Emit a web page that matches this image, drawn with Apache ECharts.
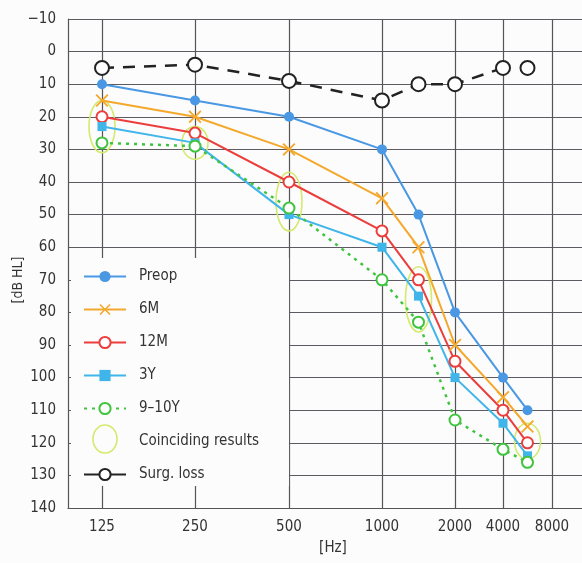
<!DOCTYPE html>
<html>
<head>
<meta charset="utf-8">
<script src="https://cdn.jsdelivr.net/npm/echarts@6/dist/echarts.min.js"></script>
<style>
  html, body { margin: 0; padding: 0; background: #fcfcfc; }
  #box { width: 582px; height: 563px; }
</style>
</head>
<body>
<div id="box"></div>
<script>
  // measured frequencies (Hz) and thresholds (dB HL)
  const freqs = [125, 250, 500, 1000, 1500, 2000, 4000, 6000];
  const preop = [10, 15, 20, 30, 50, 80, 100, 110];
  const m6 = [15, 20, 30, 45, 60, 90, 106, 115];
  const m12 = [20, 25, 40, 55, 70, 95, 110, 120];
  const y3 = [23, 28, 50, 60, 75, 100, 114, 124];
  const y910 = [28, 29, 48, 70, 83, 113, 122, 126];
  const surgLoss = [5, 4, 9, 15, 10, 10, 5, 5];

  // coinciding results: frequency, dB from, dB to
  const coincFreq = [125, 250, 500, 1500, 6000];
  const coincFrom = [15, 23, 37, 66, 114];
  const coincTo = [31, 33, 55, 86, 125];

  // x axis is drawn as in the paper, ticks not evenly spaced
  const tickFreqs = [125, 250, 500, 1000, 2000, 4000, 8000];
  const tickLabels = ['125', '250', '500', '1000', '2000', '4000', '8000'];
  const tickPos = [34, 127, 221, 314, 387, 435, 484];

  function fx(f) {
    for (let i = 0; i < tickFreqs.length - 1; i++) {
      if (f <= tickFreqs[i + 1]) {
        const t = (f - tickFreqs[i]) / (tickFreqs[i + 1] - tickFreqs[i]);
        return tickPos[i] + t * (tickPos[i + 1] - tickPos[i]);
      }
    }
    return tickPos[tickPos.length - 1];
  }
  const pts = (arr) => arr.map((v, i) => [fx(freqs[i]), v]);

  const font = "'Liberation Sans Narrow', 'DejaVu Sans Condensed', 'Noto Sans', sans-serif";
  const gridColor = '#555';
  const xMark = 'path://M0,1L1,0L5,4L9,0L10,1L6,5L10,9L9,10L5,6L1,10L0,9L4,5Z';

  const surg = pts(surgLoss);

  const chart = echarts.init(document.getElementById('box'));
  chart.setOption({
    backgroundColor: '#fcfcfc',
    animation: false,
    textStyle: { fontFamily: font },
    grid: { left: 68, right: 0, top: 19, bottom: 55 },
    xAxis: {
      type: 'value',
      min: 0,
      max: 514,
      axisLine: { show: true, onZero: false, lineStyle: { color: gridColor, width: 1.2 } },
      axisTick: {
        show: true,
        customValues: tickPos,
        inside: true,
        length: 489,
        lineStyle: { color: gridColor, width: 1.2 },
      },
      axisLabel: {
        customValues: tickPos,
        formatter: (v) => tickLabels[tickPos.indexOf(v)] || '',
        color: '#333',
        fontSize: 15,
        margin: 12,
        fontFamily: font,
      },
      splitLine: { show: false },
    },
    yAxis: {
      type: 'value',
      inverse: true,
      min: -10,
      max: 140,
      interval: 10,
      axisLine: { show: true, lineStyle: { color: gridColor, width: 1.2 } },
      axisTick: { show: false },
      axisLabel: {
        formatter: (v) => String(v).replace('-', '\u2212'),
        color: '#333',
        fontSize: 15,
        margin: 12,
        fontFamily: font,
      },
      splitLine: { show: true, lineStyle: { color: '#5e5a62', width: 1.1 } },
    },
    legend: {
      orient: 'vertical',
      left: 71,
      top: 258,
      padding: [11, 30, 4, 12],
      backgroundColor: '#fcfcfc',
      itemWidth: 42,
      itemHeight: 14,
      itemGap: 18,
      textStyle: { fontSize: 15, color: '#333', fontFamily: font, padding: [0, 0, 0, 8] },
      data: [
        'Preop', '6M', '12M', '3Y', '9\u201310Y',
        { name: 'Coinciding results', icon: 'rect', itemStyle: { opacity: 0 } },
        { name: 'Surg. loss', lineStyle: { type: 'solid' } },
      ],
    },
    graphic: [
      {
        type: 'text', x: 18, y: 280, rotation: Math.PI / 2,
        style: { text: '[dB HL]', fill: '#333', font: '14px ' + font, align: 'center', verticalAlign: 'middle' },
      },
      {
        type: 'text', x: 333, y: 548,
        style: { text: '[Hz]', fill: '#333', font: '15px ' + font, align: 'center', verticalAlign: 'middle' },
      },
      {
        type: 'ellipse', z: 100,
        shape: { cx: 105, cy: 439, rx: 12, ry: 14 },
        style: { fill: 'none', stroke: '#d3ea6e', lineWidth: 1.6 },
      },
    ],
    series: [
      {
        name: 'Coinciding results',
        type: 'custom',
        z: 1,
        data: coincFreq.map((f, i) => [fx(f), coincFrom[i], coincTo[i]]),
        encode: { x: 0, y: [1, 2] },
        itemStyle: { color: '#d3ea6e' },
        renderItem: (params, api) => {
          const a = api.coord([api.value(0), api.value(1)]);
          const b = api.coord([api.value(0), api.value(2)]);
          return {
            type: 'ellipse',
            shape: { cx: a[0], cy: (a[1] + b[1]) / 2, rx: 13, ry: Math.abs(b[1] - a[1]) / 2 },
            style: { fill: 'none', stroke: '#d3ea6e', lineWidth: 1.6 },
          };
        },
      },
      {
        name: 'Preop', type: 'line', data: pts(preop),
        symbol: 'circle', symbolSize: 10,
        itemStyle: { color: '#4a98e3' },
        lineStyle: { color: '#4a98e3', width: 2 },
      },
      {
        name: '6M', type: 'line', data: pts(m6),
        symbol: xMark, symbolSize: 13,
        itemStyle: { color: '#f4a82c' },
        lineStyle: { color: '#f4a82c', width: 2 },
      },
      {
        name: '12M', type: 'line', data: pts(m12),
        symbol: 'emptyCircle', symbolSize: 11,
        itemStyle: { color: '#ec3d3d', borderWidth: 2 },
        lineStyle: { color: '#ec3d3d', width: 2 },
      },
      {
        name: '3Y', type: 'line', data: pts(y3),
        symbol: 'rect', symbolSize: 9,
        itemStyle: { color: '#3fb5ea' },
        lineStyle: { color: '#3fb5ea', width: 2 },
      },
      {
        name: '9\u201310Y', type: 'line', data: pts(y910),
        symbol: 'emptyCircle', symbolSize: 11,
        itemStyle: { color: '#3fc43f', borderWidth: 1.8 },
        lineStyle: { color: '#3fc43f', width: 2.5, type: [3, 5] },
      },
      {
        name: 'Surg. loss', type: 'line', data: surg.slice(0, 7),
        symbol: 'emptyCircle', symbolSize: 14,
        itemStyle: { color: '#222', borderWidth: 2 },
        lineStyle: { color: '#222', width: 2.5, type: [12, 9] },
      },
      {
        name: 'Surg. loss', type: 'line', data: surg.slice(7),
        symbol: 'emptyCircle', symbolSize: 14,
        itemStyle: { color: '#222', borderWidth: 2 },
        lineStyle: { color: '#222', width: 2.5 },
      },
    ],
  });
</script>
</body>
</html>
